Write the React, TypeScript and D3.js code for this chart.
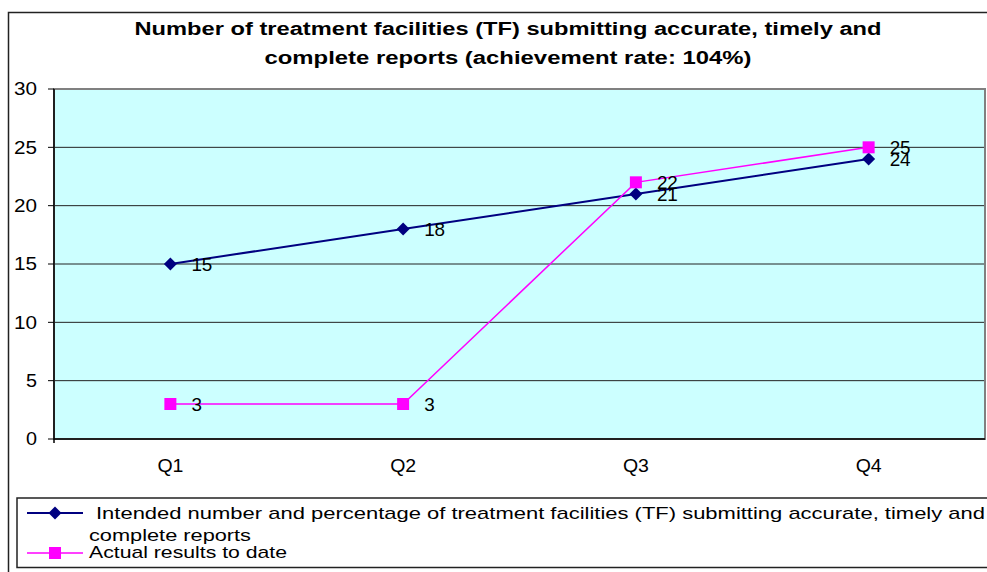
import React from "react";
import * as d3 from "d3";

const categories = ["Q1", "Q2", "Q3", "Q4"];
const intended = [15, 18, 21, 24];
const actual = [3, 3, 22, 25];
const yTicks = [0, 5, 10, 15, 20, 25, 30];
const titleLines = [
  "Number of treatment facilities (TF) submitting accurate, timely and",
  "complete reports (achievement rate: 104%)",
];
const seriesNames = [
  "Intended number and percentage of treatment facilities (TF) submitting accurate, timely and",
  "complete reports",
  "Actual results to date",
];

const W = 987;
const H = 572;
const plot = { left: 54, right: 985, top: 89, bottom: 439 };
const FONT = "'Liberation Sans', Arial, sans-serif";

export default function App() {
  const x = d3.scaleBand<string>().domain(categories).range([plot.left, plot.right]);
  const y = d3.scaleLinear().domain([0, 30]).range([plot.bottom, plot.top]);
  const cx = (c: string) => (x(c) as number) + x.bandwidth() / 2;
  const line = d3
    .line<number>()
    .x((_, i) => cx(categories[i]))
    .y((d) => y(d));

  const diamond = (px: number, py: number, r: number) =>
    `M${px},${py - r}L${px + r},${py}L${px},${py + r}L${px - r},${py}Z`;

  return (
    <svg
      width={W}
      height={H}
      style={{ position: "absolute", left: 0, top: 0, fontFamily: FONT }}
    >
      <rect x={0} y={0} width={W} height={H} fill="#fff" />
      {/* outer chart border */}
      <rect x={8.5} y={12.5} width={W} height={H} fill="none" stroke="#222" strokeWidth={1.5} />

      {/* title */}
      <text x={508} y={34.5} textAnchor="middle" fontSize={18} fontWeight="bold" textLength={747} lengthAdjust="spacingAndGlyphs">
        {titleLines[0]}
      </text>
      <text x={508} y={63.5} textAnchor="middle" fontSize={18} fontWeight="bold" textLength={487} lengthAdjust="spacingAndGlyphs">
        {titleLines[1]}
      </text>

      {/* plot background */}
      <rect
        x={plot.left}
        y={plot.top}
        width={plot.right - plot.left}
        height={plot.bottom - plot.top}
        fill="#CCFFFF"
      />
      {/* gridlines */}
      {yTicks
        .filter((t) => t > 0 && t < 30)
        .map((t) => (
          <line key={t} x1={plot.left} x2={plot.right} y1={y(t)} y2={y(t)} stroke="#222" strokeWidth={1} />
        ))}
      {/* plot border */}
      <rect
        x={plot.left}
        y={plot.top}
        width={plot.right - plot.left}
        height={plot.bottom - plot.top}
        fill="none"
        stroke="#808080"
        strokeWidth={2}
      />
      {/* axes */}
      <line x1={plot.left} x2={plot.left} y1={plot.top} y2={plot.bottom + 4} stroke="#000" strokeWidth={1.5} />
      <line x1={plot.left} x2={plot.right} y1={plot.bottom} y2={plot.bottom} stroke="#000" strokeWidth={1.5} />
      {yTicks.map((t) => (
        <g key={t}>
          <line x1={plot.left - 6} x2={plot.left} y1={y(t)} y2={y(t)} stroke="#000" strokeWidth={1} />
          <text x={37} y={y(t)} dy="0.36em" textAnchor="end" fontSize={18} textLength={t >= 10 ? 23 : 11} lengthAdjust="spacingAndGlyphs">
            {t}
          </text>
        </g>
      ))}
      {categories.map((c) => (
        <text key={c} x={cx(c)} y={466} dy="0.36em" textAnchor="middle" fontSize={18} textLength={26} lengthAdjust="spacingAndGlyphs">
          {c}
        </text>
      ))}

      {/* series lines */}
      <path d={line(intended) || ""} fill="none" stroke="#000080" strokeWidth={2} />
      <path d={line(actual) || ""} fill="none" stroke="#FF00FF" strokeWidth={1.5} />
      {intended.map((v, i) => (
        <path key={"d" + i} d={diamond(cx(categories[i]), y(v), 6.5)} fill="#000080" />
      ))}
      {actual.map((v, i) => (
        <rect key={"s" + i} x={cx(categories[i]) - 6} y={y(v) - 6} width={12} height={12} fill="#FF00FF" />
      ))}
      {/* data labels */}
      {intended.map((v, i) => (
        <text key={"li" + i} x={cx(categories[i]) + 21} y={y(v)} dy="0.36em" fontSize={19} textLength={String(v).length * 10.5} lengthAdjust="spacingAndGlyphs">
          {v}
        </text>
      ))}
      {actual.map((v, i) => (
        <text key={"la" + i} x={cx(categories[i]) + 21} y={y(v)} dy="0.36em" fontSize={19} textLength={String(v).length * 10.5} lengthAdjust="spacingAndGlyphs">
          {v}
        </text>
      ))}

      {/* legend */}
      <rect x={17} y={498} width={W} height={69.5} fill="#fff" stroke="#222" strokeWidth={1.5} />
      <line x1={27} x2={83} y1={513} y2={513} stroke="#000080" strokeWidth={2} />
      <path d={diamond(55, 513, 6.5)} fill="#000080" />
      <text x={96} y={513} dy="0.36em" fontSize={17} textLength={889} lengthAdjust="spacingAndGlyphs">
        {seriesNames[0]}
      </text>
      <text x={89} y={535} dy="0.36em" fontSize={17} textLength={162} lengthAdjust="spacingAndGlyphs">
        {seriesNames[1]}
      </text>
      <line x1={27} x2={83} y1={553} y2={553} stroke="#FF00FF" strokeWidth={1.5} />
      <rect x={49} y={547} width={12} height={12} fill="#FF00FF" />
      <text x={89} y={552} dy="0.36em" fontSize={17} textLength={198} lengthAdjust="spacingAndGlyphs">
        {seriesNames[2]}
      </text>
    </svg>
  );
}
